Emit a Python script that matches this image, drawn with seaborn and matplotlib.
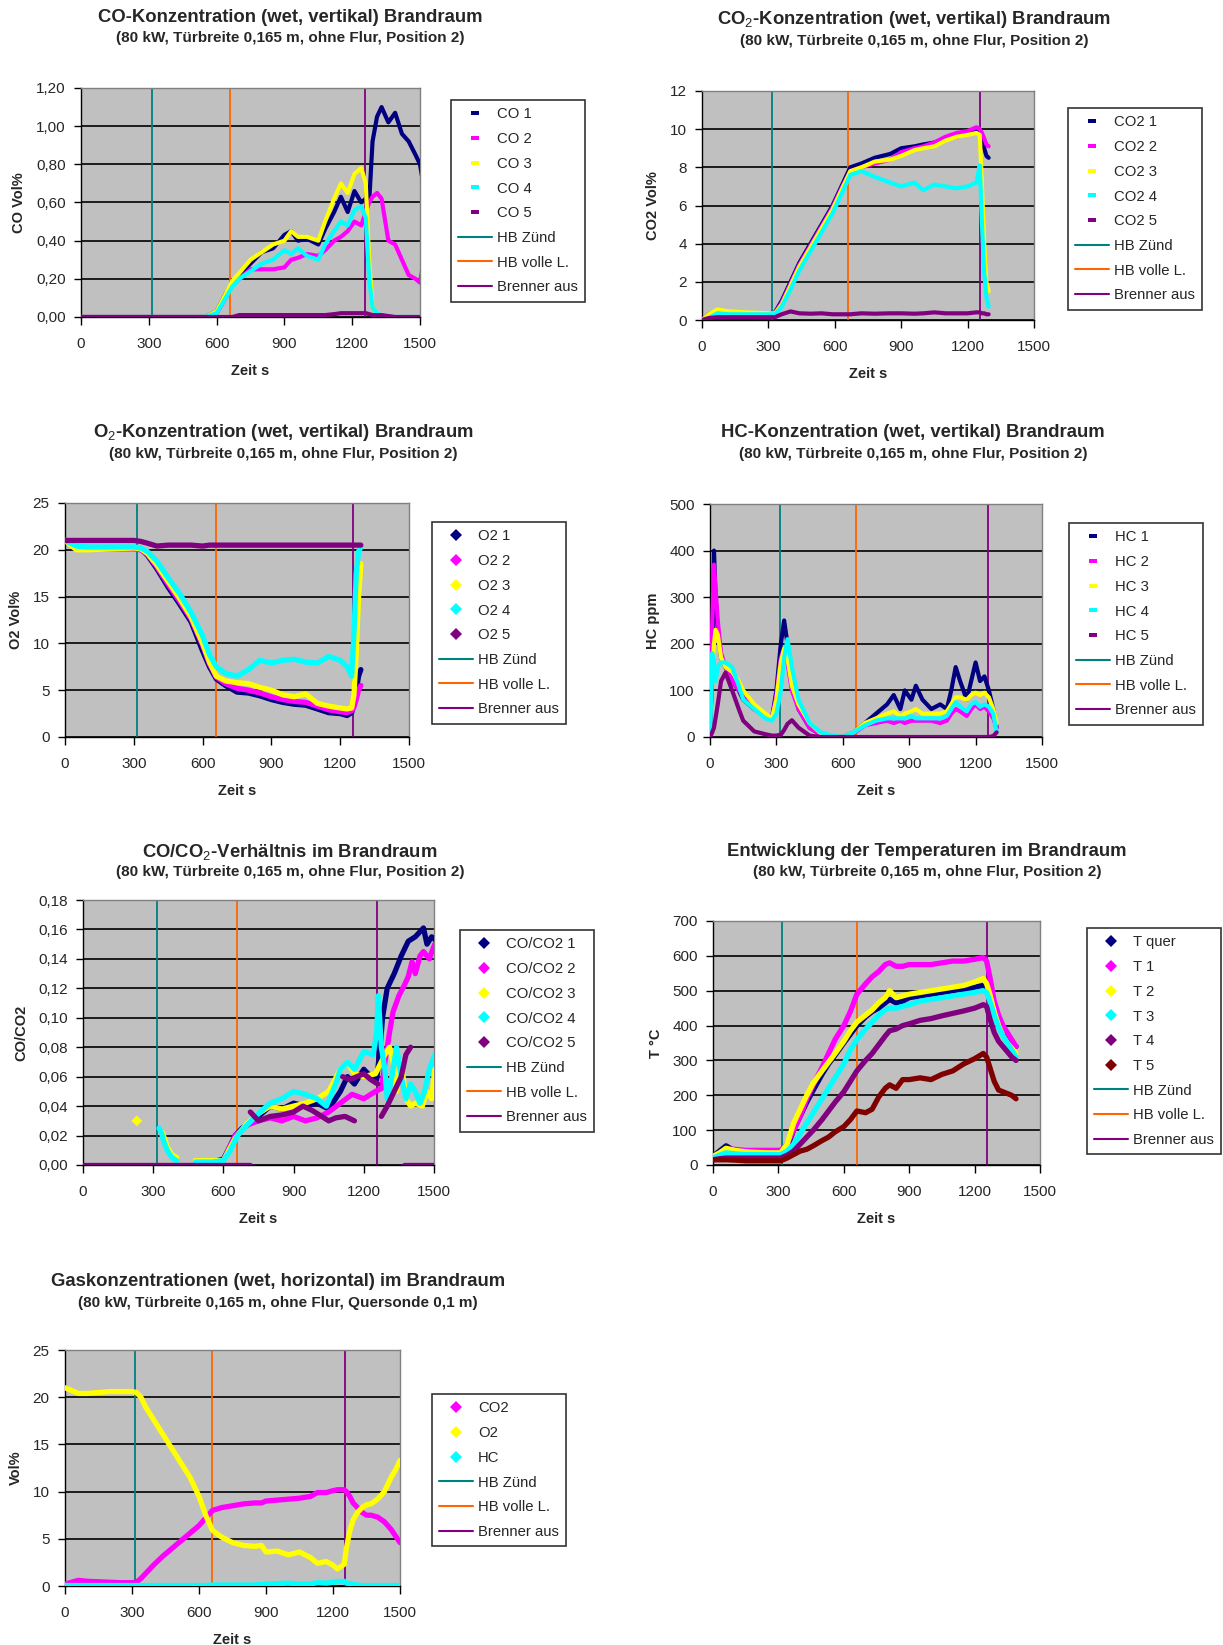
import numpy as np
import pandas as pd
import matplotlib
matplotlib.use("Agg")
import matplotlib.pyplot as plt
from matplotlib.lines import Line2D
import seaborn as sns

# ---------------- data ----------------
# vertical event markers (s)
t_zuend, t_volle, t_aus = 315, 660, 1255

# Plot 1: CO
t_co = [0, 300, 550, 600, 640, 670, 700, 750, 800, 850, 900, 930, 960, 1000, 1050, 1080, 1120, 1150,
        1180, 1210, 1240, 1260, 1275, 1290, 1310, 1330, 1360, 1390, 1420, 1450, 1480, 1500, 1510]
co_1 = [0, 0, 0, 0.03, 0.12, 0.18, 0.22, 0.28, 0.34, 0.36, 0.43, 0.45, 0.40, 0.41, 0.38, 0.46, 0.55, 0.63,
        0.55, 0.66, 0.60, 0.62, 0.60, 0.92, 1.05, 1.10, 1.02, 1.07, 0.96, 0.92, 0.85, 0.80, 0.73]
co_2 = [0, 0, 0, 0.02, 0.10, 0.17, 0.20, 0.25, 0.25, 0.25, 0.26, 0.30, 0.31, 0.33, 0.32, 0.35, 0.40, 0.42,
        0.45, 0.50, 0.48, 0.55, 0.60, 0.63, 0.65, 0.62, 0.40, 0.38, 0.30, 0.22, 0.20, 0.18, 0.25]
co_3 = [0, 0, 0, 0.03, 0.12, 0.19, 0.23, 0.30, 0.34, 0.38, 0.40, 0.45, 0.42, 0.42, 0.40, 0.50, 0.62, 0.70,
        0.65, 0.75, 0.78, 0.70, 0.30, 0.05, 0.02, 0.01, 0, np.nan, np.nan, np.nan, np.nan, np.nan, np.nan]
co_4 = [0, 0, 0, 0.02, 0.10, 0.16, 0.20, 0.24, 0.28, 0.30, 0.35, 0.33, 0.36, 0.32, 0.30, 0.38, 0.45, 0.50,
        0.48, 0.56, 0.58, 0.52, 0.20, 0.05, 0.02, 0.01, 0, 0, 0, 0, 0, 0, 0]
co_5 = [0, 0, 0, 0, 0, 0, 0.01, 0.01, 0.01, 0.01, 0.01, 0.01, 0.01, 0.01, 0.01, 0.01, 0.015, 0.02,
        0.02, 0.02, 0.02, 0.02, 0.015, 0.01, 0.01, 0.01, 0.005, 0, 0, 0, 0, 0, np.nan]

# Plot 2: CO2
t_co2 = [0, 30, 70, 120, 200, 300, 330, 360, 400, 440, 490, 540, 590, 630, 670, 720, 780, 850, 900, 960,
         1000, 1050, 1100, 1150, 1200, 1240, 1255, 1265, 1275, 1285, 1295]
co2_1 = [0, 0.3, 0.5, 0.4, 0.35, 0.3, 0.4, 1.0, 2.0, 3.0, 4.0, 5.0, 6.0, 7.0, 8.0, 8.2, 8.5, 8.7, 9.0, 9.1,
         9.2, 9.3, 9.5, 9.6, 9.8, 9.9, 9.8, 9.5, 9.0, 8.6, 8.5]
co2_2 = [0, 0.2, 0.4, 0.35, 0.3, 0.3, 0.35, 0.9, 1.9, 2.9, 3.9, 4.9, 5.9, 6.9, 7.8, 8.0, 8.2, 8.4, 8.8, 9.0,
         9.1, 9.3, 9.6, 9.8, 9.9, 10.1, 10.0, 9.8, 9.5, 9.2, 9.1]
co2_3 = [0, 0.3, 0.55, 0.45, 0.4, 0.35, 0.35, 0.8, 1.8, 2.8, 3.8, 4.8, 5.8, 6.8, 7.8, 8.0, 8.3, 8.4, 8.6, 8.9,
         9.0, 9.1, 9.4, 9.6, 9.7, 9.8, 9.7, 7.0, 4.0, 2.0, 1.5]
co2_4 = [0, 0.1, 0.35, 0.3, 0.3, 0.3, 0.3, 0.7, 1.6, 2.6, 3.6, 4.6, 5.6, 6.6, 7.6, 7.8, 7.5, 7.2, 7.0, 7.2,
         6.8, 7.1, 7.0, 6.9, 7.0, 7.2, 8.1, 5.0, 2.5, 1.2, 0.7]
co2_5 = [0, 0.1, 0.15, 0.15, 0.15, 0.15, 0.15, 0.3, 0.45, 0.35, 0.33, 0.35, 0.3, 0.3, 0.3, 0.35, 0.33, 0.35,
         0.35, 0.33, 0.35, 0.4, 0.35, 0.35, 0.35, 0.4, 0.4, 0.35, 0.35, 0.3, 0.3]

# Plot 3: O2
t_o2 = [0, 50, 100, 200, 300, 330, 360, 400, 450, 500, 550, 600, 630, 660, 700, 750, 800, 850, 900, 950,
        1000, 1050, 1100, 1150, 1200, 1230, 1250, 1260, 1270, 1280, 1290]
o2_1 = [21, 20.3, 20.2, 20.2, 20.2, 20.1, 19.4, 18.0, 16.0, 14.2, 12.3, 9.2, 7.5, 6.2, 5.5, 4.8, 4.7, 4.4,
        4.0, 3.7, 3.5, 3.4, 3.0, 2.6, 2.5, 2.3, 2.6, 3.5, 5.0, 6.5, 7.2]
o2_2 = [21, 20.2, 20.1, 20.1, 20.1, 20.0, 19.5, 18.2, 16.3, 14.5, 12.6, 9.8, 7.8, 6.4, 5.7, 5.2, 5.0, 4.7,
        4.3, 4.0, 3.8, 3.7, 3.3, 2.9, 2.7, 2.6, 2.8, 3.2, 4.0, 5.0, 5.5]
o2_3 = [21, 20.0, 20.0, 20.1, 20.2, 20.1, 19.6, 18.4, 16.6, 14.8, 12.8, 10.0, 8.0, 6.5, 6.0, 5.8, 5.7, 5.3,
        5.0, 4.5, 4.3, 4.6, 3.6, 3.3, 3.1, 3.0, 3.1, 4.5, 9.0, 15.0, 18.5]
o2_4 = [21, 20.4, 20.3, 20.3, 20.3, 20.2, 19.8, 18.8, 17.0, 15.3, 13.3, 10.8, 8.8, 7.5, 6.8, 6.5, 7.2, 8.2,
        7.9, 8.2, 8.3, 8.0, 7.9, 8.6, 8.2, 7.5, 6.5, 11.0, 17.5, 19.8, 20.3]
o2_5 = [21, 21, 21, 21, 21, 20.9, 20.7, 20.4, 20.5, 20.5, 20.5, 20.4, 20.5, 20.5, 20.5, 20.5, 20.5, 20.5,
        20.5, 20.5, 20.5, 20.5, 20.5, 20.5, 20.5, 20.5, 20.5, 20.5, 20.5, 20.5, 20.5]

# Plot 4: HC
t_hc = [0, 10, 18, 25, 35, 50, 70, 100, 130, 150, 200, 250, 280, 300, 320, 335, 350, 370, 400, 450, 500,
        550, 600, 650, 700, 750, 800, 830, 860, 880, 910, 930, 960, 1000, 1040, 1070, 1090, 1110, 1130,
        1160, 1180, 1200, 1220, 1240, 1260, 1280, 1295]
hc_1 = [0, 150, 400, 300, 230, 170, 150, 120, 100, 80, 60, 45, 40, 100, 200, 250, 200, 120, 60, 20, 5,
        0, 0, 10, 30, 50, 70, 90, 60, 100, 80, 110, 80, 60, 70, 60, 100, 150, 120, 80, 120, 160, 120, 130,
        100, 60, 20]
hc_2 = [0, 240, 370, 320, 250, 180, 150, 120, 100, 90, 60, 45, 40, 90, 170, 190, 160, 100, 60, 20, 5,
        0, 0, 8, 25, 30, 35, 30, 35, 30, 35, 35, 35, 35, 30, 35, 50, 60, 55, 45, 60, 70, 60, 65, 55, 40, 20]
hc_3 = [30, 150, 200, 230, 220, 170, 150, 140, 120, 100, 70, 50, 40, 80, 160, 190, 170, 110, 70, 30, 8,
        2, 0, 10, 30, 40, 50, 55, 45, 50, 55, 60, 50, 50, 50, 55, 70, 85, 85, 80, 90, 95, 90, 95, 85, 60, 30]
hc_4 = [0, 180, 160, 120, 150, 160, 160, 150, 110, 80, 60, 40, 35, 50, 100, 170, 210, 150, 80, 30, 10,
        3, 0, 10, 25, 35, 40, 40, 40, 40, 45, 40, 40, 40, 40, 45, 60, 75, 65, 55, 70, 75, 65, 70, 65, 50, 10]
hc_5 = [0, 10, 20, 40, 70, 120, 138, 100, 60, 35, 12, 6, 3, 3, 5, 15, 28, 36, 20, 3, 0,
        0, 0, 0, 0, 0, 0, 0, 0, 0, 0, 0, 0, 0, 0, 0, 0, 0, 0, 0, 0, 0, 0, 0, 0, 2, 10]

# Plot 5: CO/CO2
r1_t = [500, 550, 600, 620, 650, 680, 700, 750, 800, 850, 900, 950, 1000, 1050, 1100, 1130, 1160, 1200,
        1230, 1255, 1270, 1280, 1300, 1330, 1360, 1390, 1420, 1455, 1470, 1490, 1505]
r1_y = [0.002, 0.002, 0.004, 0.01, 0.02, 0.025, 0.027, 0.033, 0.04, 0.038, 0.042, 0.04, 0.042, 0.038,
        0.05, 0.06, 0.055, 0.065, 0.06, 0.058, 0.08, 0.10, 0.12, 0.13, 0.142, 0.152, 0.155, 0.161, 0.150,
        0.155, 0.153]
r2_t = [500, 600, 650, 700, 750, 800, 850, 900, 950, 1000, 1050, 1100, 1150, 1200, 1250, 1276, 1292,
        1310, 1325, 1350, 1373, 1390, 1406, 1420, 1440, 1455, 1480, 1503]
r2_y = [0.002, 0.003, 0.02, 0.027, 0.03, 0.032, 0.03, 0.033, 0.03, 0.032, 0.036, 0.042, 0.048, 0.045,
        0.05, 0.052, 0.072, 0.09, 0.104, 0.115, 0.122, 0.128, 0.138, 0.13, 0.142, 0.145, 0.14, 0.150]
r3_early_t = [340, 360, 380, 400]
r3_early_y = [0.022, 0.012, 0.007, 0.005]
r3_t = [480, 550, 600, 650, 700, 750, 800, 850, 900, 950, 1000, 1050, 1100, 1130, 1160, 1200, 1250,
        1275, 1290, 1310, 1325, 1340, 1360, 1380, 1400, 1420, 1450, 1470, 1490, 1503]
r3_y = [0.003, 0.003, 0.003, 0.018, 0.028, 0.035, 0.04, 0.038, 0.04, 0.042, 0.045, 0.05, 0.065, 0.07,
        0.062, 0.06, 0.062, 0.07, 0.075, 0.08, 0.07, 0.05, 0.07, 0.045, 0.04, 0.042, 0.04, 0.05, 0.045, 0.065]
r3_single_t = [230]
r3_single_y = [0.03]
r4_early_t = [325, 335, 345, 360, 380, 400]
r4_early_y = [0.025, 0.022, 0.016, 0.010, 0.005, 0.003]
r4_t = [480, 550, 600, 630, 660, 700, 750, 800, 850, 900, 950, 1000, 1040, 1080, 1100, 1130, 1160, 1200,
        1240, 1255, 1262, 1275, 1290, 1300, 1320, 1340, 1360, 1380, 1400, 1420, 1440, 1460, 1480, 1503]
r4_y = [0.002, 0.002, 0.003, 0.01, 0.02, 0.027, 0.035, 0.042, 0.045, 0.05, 0.048, 0.045, 0.04, 0.055,
        0.065, 0.07, 0.065, 0.077, 0.075, 0.09, 0.115, 0.08, 0.065, 0.045, 0.06, 0.08, 0.06, 0.045, 0.055,
        0.05, 0.042, 0.05, 0.065, 0.075]
r5_zero_t = [0, 715]
r5_zero_y = [0, 0]
r5_a_t = [715, 750, 800, 850, 900, 940, 980, 1020, 1050, 1080, 1120, 1160]
r5_a_y = [0.036, 0.03, 0.033, 0.034, 0.036, 0.04, 0.037, 0.033, 0.03, 0.032, 0.033, 0.03]
r5_b_t = [1110, 1140, 1170, 1200, 1230, 1260]
r5_b_y = [0.06, 0.058, 0.06, 0.062, 0.058, 0.055]
r5_c_t = [1275, 1300, 1330, 1360, 1380, 1400]
r5_c_y = [0.033, 0.04, 0.05, 0.06, 0.075, 0.08]
r5_zero2_t = [1370, 1500]
r5_zero2_y = [0, 0]

# Plot 6: temperatures
t_temp = [0, 30, 60, 100, 150, 200, 250, 310, 340, 370, 400, 430, 460, 500, 530, 560, 600, 630, 660, 700,
          730, 760, 790, 810, 840, 870, 900, 950, 1000, 1050, 1100, 1150, 1200, 1240, 1255, 1270, 1290,
          1310, 1330, 1350, 1370, 1390]
temp_quer = [25, 40, 55, 40, 35, 32, 30, 30, 50, 100, 140, 180, 215, 260, 290, 315, 350, 375, 400, 425,
             440, 450, 465, 475, 465, 470, 480, 485, 490, 495, 500, 505, 510, 515, 510, 480, 440, 405, 380,
             360, 350, 340]
temp_1 = [20, 30, 45, 45, 42, 42, 42, 42, 60, 100, 140, 190, 230, 280, 320, 360, 400, 440, 490, 520,
          540, 555, 575, 580, 570, 570, 575, 575, 575, 580, 585, 585, 590, 595, 585, 540, 470, 430, 400,
          380, 360, 340]
temp_2 = [25, 35, 48, 42, 38, 36, 35, 35, 60, 120, 160, 200, 235, 270, 295, 320, 355, 385, 410, 430,
          445, 465, 480, 500, 480, 485, 490, 495, 500, 505, 510, 515, 525, 535, 520, 490, 440, 400, 370,
          350, 335, 320]
temp_3 = [20, 28, 35, 32, 30, 30, 30, 30, 40, 60, 90, 120, 150, 190, 220, 250, 290, 330, 360, 390,
          410, 430, 445, 450, 450, 455, 460, 470, 475, 480, 485, 490, 495, 500, 495, 470, 430, 395, 370,
          350, 330, 310]
temp_4 = [15, 18, 20, 20, 20, 20, 20, 20, 28, 40, 60, 80, 100, 130, 155, 180, 210, 240, 270, 300,
          320, 345, 370, 385, 390, 400, 405, 415, 420, 428, 435, 442, 450, 460, 455, 420, 380, 355, 340,
          325, 310, 300]
temp_5 = [15, 15, 15, 14, 12, 12, 12, 12, 20, 30, 40, 45, 55, 70, 80, 95, 110, 130, 155, 150,
          160, 195, 220, 230, 220, 245, 245, 250, 245, 260, 270, 290, 305, 320, 310, 280, 240, 215, 210,
          205, 200, 190]

# Plot 7: horizontal probe
t_gas = [0, 30, 60, 100, 150, 200, 250, 300, 320, 340, 360, 400, 440, 480, 520, 560, 600, 630, 660, 700,
         750, 800, 850, 880, 900, 950, 1000, 1050, 1100, 1130, 1170, 1200, 1220, 1250, 1260, 1275, 1290,
         1310, 1330, 1350, 1370, 1400, 1430, 1460, 1480, 1500]
gas_co2 = [0.2, 0.4, 0.6, 0.5, 0.45, 0.4, 0.35, 0.35, 0.4, 0.8, 1.3, 2.3, 3.2, 4.0, 4.8, 5.6, 6.4, 7.2,
           8.0, 8.3, 8.5, 8.7, 8.8, 8.8, 9.0, 9.1, 9.2, 9.3, 9.5, 9.9, 9.9, 10.1, 10.2, 10.2, 10.0, 9.5,
           8.8, 8.3, 7.8, 7.5, 7.5, 7.3, 6.8, 6.0, 5.3, 4.6]
gas_o2 = [21.0, 20.7, 20.4, 20.4, 20.5, 20.6, 20.6, 20.6, 20.5, 20.0, 19.0, 17.5, 16.0, 14.5, 13.0, 11.5,
          9.5, 7.5, 5.9, 5.2, 4.6, 4.3, 4.2, 4.3, 3.6, 3.7, 3.3, 3.6, 3.0, 2.4, 2.6, 2.2, 1.8, 2.3, 4.0,
          5.8, 7.0, 7.8, 8.3, 8.6, 8.7, 9.2, 10.0, 11.5, 12.3, 13.3]
gas_hc = [0.05, 0.05, 0.05, 0.05, 0.05, 0.05, 0.05, 0.05, 0.05, 0.05, 0.05, 0.05, 0.05, 0.05, 0.05, 0.05,
          0.05, 0.05, 0.1, 0.1, 0.1, 0.1, 0.1, 0.15, 0.2, 0.25, 0.3, 0.2, 0.2, 0.35, 0.3, 0.4, 0.45, 0.5,
          0.3, 0.25, 0.15, 0.1, 0.05, 0.05, 0.05, 0.05, 0.05, 0.05, 0.05, 0.05]

# ---------------- style ----------------
NAVY, MAG, YEL, CYA, PUR, DRED = "#000080", "#FF00FF", "#FFFF00", "#00FFFF", "#800080", "#800000"
C_Z, C_V, C_A = "#008080", "#FF6600", "#800080"

sns.set_style("white")
plt.rcParams["font.family"] = ["Liberation Sans", "DejaVu Sans"]
plt.rcParams["mathtext.fontset"] = "custom"
plt.rcParams["mathtext.rm"] = "Liberation Sans"
plt.rcParams["mathtext.it"] = "Liberation Sans"
plt.rcParams["mathtext.bf"] = "Liberation Sans:bold"

W, H = 1223, 1645
fig = plt.figure(figsize=(W / 100, H / 100), dpi=100)
fig.patch.set_facecolor("white")

# small horizontal dash used as legend marker for the "dash" panels
DASH = [(-1.4, -0.55), (1.4, -0.55), (1.4, 0.55), (-1.4, 0.55), (-1.4, -0.55)]


def comma(v, dec):
    return f"{v:.{dec}f}".replace(".", ",")


def panel(rect, series, ylim, ystep, ydec, ylabel, titles, tcenter, ty, legpos, marker):
    x0, y0, x1, y1 = rect
    ax = fig.add_axes([x0 / W, 1 - y1 / H, (x1 - x0) / W, (y1 - y0) / H])
    ax.set_facecolor("#C0C0C0")
    for xv, c in ((t_zuend, C_Z), (t_volle, C_V), (t_aus, C_A)):
        ax.axvline(xv, color=c, lw=1.3, zorder=1)
    lw = 3.0 if marker == "s" else 3.8
    handles = []
    for label, color, segs in series:
        for (t, y) in segs:
            if len(t) == 1:
                sns.scatterplot(x=t, y=y, ax=ax, color=color, marker="D", s=30,
                                edgecolor="none", zorder=3, legend=False)
            else:
                df = pd.DataFrame({"t": t, "y": y}).dropna()
                sns.lineplot(data=df, x="t", y="y", ax=ax, color=color, lw=lw,
                             sort=False, estimator=None, zorder=3, legend=False)
        if marker == "s":
            h = Line2D([], [], ls="none", marker=DASH, color=color, markersize=6,
                       markeredgewidth=0, label=label)
        else:
            h = Line2D([], [], ls="none", marker="D", color=color, markersize=6,
                       markeredgewidth=0, label=label)
        handles.append(h)
    for lab, c in (("HB Zünd", C_Z), ("HB volle L.", C_V), ("Brenner aus", C_A)):
        handles.append(Line2D([], [], color=c, lw=1.5, label=lab))

    ax.set_xlim(0, 1500)
    ax.set_ylim(*ylim)
    ax.set_xticks(np.arange(0, 1501, 300))
    yt = np.arange(ylim[0], ylim[1] + ystep / 2, ystep)
    ax.set_yticks(yt)
    ax.set_yticklabels([comma(v, ydec) for v in yt])
    ax.set_axisbelow(True)
    ax.yaxis.grid(True, color="black", lw=1.2)
    ax.xaxis.grid(False)
    for s in ("top", "right"):
        ax.spines[s].set_color("#808080")
        ax.spines[s].set_linewidth(1.0)
    for s in ("left", "bottom"):
        ax.spines[s].set_color("black")
        ax.spines[s].set_linewidth(1.0)
    ax.tick_params(axis="x", direction="out", length=6, width=1, color="black",
                   labelsize=11, pad=8.5, bottom=True)
    ax.tick_params(axis="y", direction="out", length=5, width=1, color="black",
                   labelsize=11, pad=6, left=True)
    ax.set_xlabel("Zeit s", fontsize=10.5, fontweight="bold", labelpad=9)
    ax.set_ylabel(ylabel, fontsize=10.5, fontweight="bold", labelpad=7)

    fig.text(tcenter / W, 1 - ty[0] / H, titles[0], ha="center", va="center",
             fontsize=13.3, fontweight="bold")
    fig.text(tcenter / W, 1 - ty[1] / H, titles[1], ha="center", va="center",
             fontsize=11, fontweight="bold")

    leg = ax.legend(handles=handles, loc="upper left",
                    bbox_to_anchor=(legpos[0] / W, 1 - legpos[1] / H),
                    bbox_transform=fig.transFigure, frameon=True, fancybox=False,
                    edgecolor="black", fontsize=10.7, labelspacing=0.72,
                    handlelength=2.25, handletextpad=0.35, borderpad=0.5,
                    borderaxespad=0)
    leg.get_frame().set_linewidth(1.2)
    return ax


SUB = "(80 kW, Türbreite 0,165 m, ohne Flur, Position 2)"

panel((81, 88, 420, 317),
      [("CO 1", NAVY, [(t_co, co_1)]), ("CO 2", MAG, [(t_co, co_2)]),
       ("CO 3", YEL, [(t_co, co_3)]), ("CO 4", CYA, [(t_co, co_4)]),
       ("CO 5", PUR, [(t_co, co_5)])],
      (0, 1.2), 0.2, 2, "CO Vol%",
      ("CO-Konzentration (wet, vertikal) Brandraum", SUB), 290, (17, 38), (451, 100), "s")

panel((702, 91, 1034, 320),
      [("CO2 1", NAVY, [(t_co2, co2_1)]), ("CO2 2", MAG, [(t_co2, co2_2)]),
       ("CO2 3", YEL, [(t_co2, co2_3)]), ("CO2 4", CYA, [(t_co2, co2_4)]),
       ("CO2 5", PUR, [(t_co2, co2_5)])],
      (0, 12), 2, 0, "CO2 Vol%",
      (r"CO$_{2}$-Konzentration (wet, vertikal) Brandraum", SUB), 914, (19, 41), (1068, 108), "s")

panel((65, 503, 409, 737),
      [("O2 1", NAVY, [(t_o2, o2_1)]), ("O2 2", MAG, [(t_o2, o2_2)]),
       ("O2 3", YEL, [(t_o2, o2_3)]), ("O2 4", CYA, [(t_o2, o2_4)]),
       ("O2 5", PUR, [(t_o2, o2_5)])],
      (0, 25), 5, 0, "O2 Vol%",
      (r"O$_{2}$-Konzentration (wet, vertikal) Brandraum", SUB), 283, (433, 454), (432, 522), "D")

panel((710, 504, 1042, 737),
      [("HC 1", NAVY, [(t_hc, hc_1)]), ("HC 2", MAG, [(t_hc, hc_2)]),
       ("HC 3", YEL, [(t_hc, hc_3)]), ("HC 4", CYA, [(t_hc, hc_4)]),
       ("HC 5", PUR, [(t_hc, hc_5)])],
      (0, 500), 100, 0, "HC ppm",
      ("HC-Konzentration (wet, vertikal) Brandraum", SUB), 913, (433, 454), (1069, 523), "s")

panel((83, 900, 434, 1165),
      [("CO/CO2 1", NAVY, [(r1_t, r1_y)]), ("CO/CO2 2", MAG, [(r2_t, r2_y)]),
       ("CO/CO2 3", YEL, [(r3_early_t, r3_early_y), (r3_t, r3_y), (r3_single_t, r3_single_y)]),
       ("CO/CO2 4", CYA, [(r4_early_t, r4_early_y), (r4_t, r4_y)]),
       ("CO/CO2 5", PUR, [(r5_zero_t, r5_zero_y), (r5_a_t, r5_a_y), (r5_b_t, r5_b_y),
                          (r5_c_t, r5_c_y), (r5_zero2_t, r5_zero2_y)])],
      (0, 0.18), 0.02, 2, "CO/CO2",
      (r"CO/CO$_{2}$-Verhältnis im Brandraum", SUB), 290, (852, 872), (460, 930), "D")

panel((713, 921, 1040, 1165),
      [("T quer", NAVY, [(t_temp, temp_quer)]), ("T 1", MAG, [(t_temp, temp_1)]),
       ("T 2", YEL, [(t_temp, temp_2)]), ("T 3", CYA, [(t_temp, temp_3)]),
       ("T 4", PUR, [(t_temp, temp_4)]), ("T 5", DRED, [(t_temp, temp_5)])],
      (0, 700), 100, 0, "T °C",
      ("Entwicklung der Temperaturen im Brandraum", SUB), 927, (851, 872), (1087, 928), "D")

panel((65, 1350, 400, 1586),
      [("CO2", MAG, [(t_gas, gas_co2)]), ("O2", YEL, [(t_gas, gas_o2)]),
       ("HC", CYA, [(t_gas, gas_hc)])],
      (0, 25), 5, 0, "Vol%",
      ("Gaskonzentrationen (wet, horizontal) im Brandraum",
       "(80 kW, Türbreite 0,165 m, ohne Flur, Quersonde 0,1 m)"), 278, (1282, 1303), (432, 1394), "D")

fig.savefig("out.png", dpi=100, facecolor="white")
